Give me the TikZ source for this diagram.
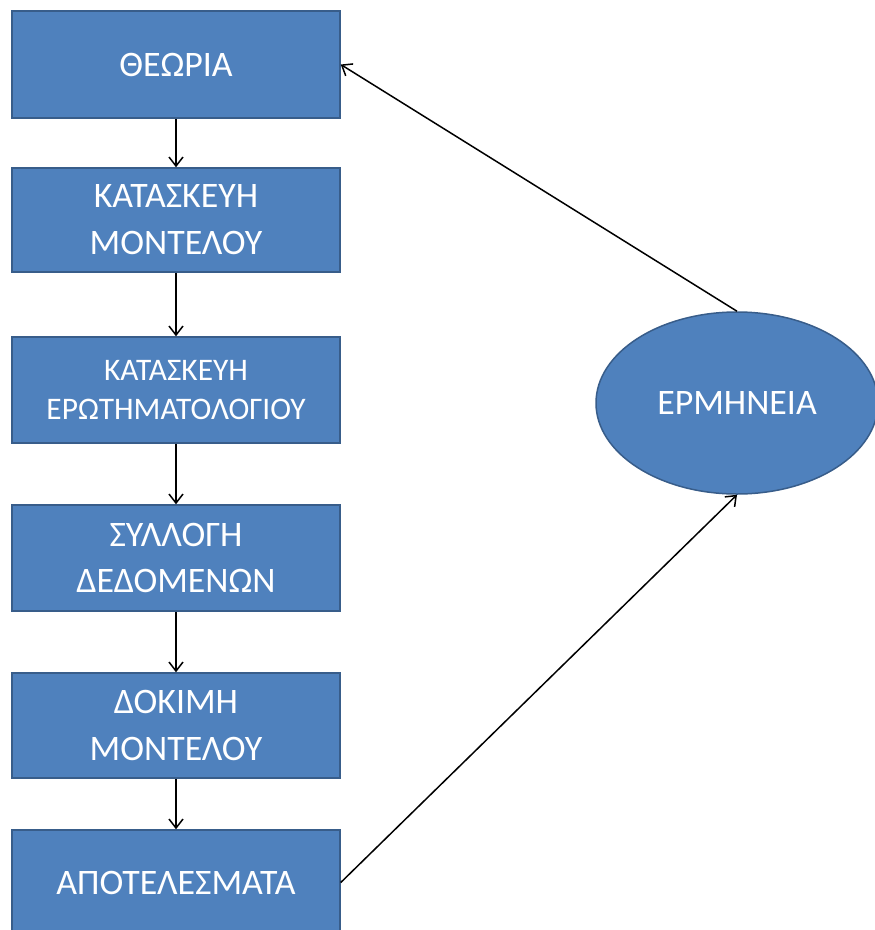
\documentclass[tikz,border=0pt]{standalone}
\usepackage{fontspec}
\setmainfont{Carlito}
\usetikzlibrary{shapes.geometric,arrows.meta}
\definecolor{boxfill}{HTML}{4F81BD}
\definecolor{boxline}{HTML}{385D8A}
\tikzset{
  stepbox/.style={draw=boxline, line width=1.5bp, fill=boxfill, minimum width=328bp, inner sep=0pt, text=white, align=center, font=\fontsize{36}{47}\selectfont},
  smallbox/.style={stepbox, font=\fontsize{31.5}{39}\selectfont},
  conn/.style={line width=1.5bp, -{Straight Barb[length=9bp,width=14bp,line width=1.5bp]}}
}
\begin{document}
\begin{tikzpicture}[x=1bp,y=-1bp]
\useasboundingbox (0,0) rectangle (875,930);
\clip (0,0) rectangle (875,930);
\fill[white] (0,0) rectangle (875,930);
\node[stepbox, minimum height=107bp] (t1) at (176,64.5) {\raisebox{-2bp}{ΘΕΩΡΙΑ}};
\node[stepbox, minimum height=104bp] (t2) at (176,220) {ΚΑΤΑΣΚΕΥΗ\\ΜΟΝΤΕΛΟΥ};
\node[smallbox, minimum height=106bp] (t3) at (176,390) {ΚΑΤΑΣΚΕΥΗ\\ΕΡΩΤΗΜΑΤΟΛΟΓΙΟΥ};
\node[stepbox, minimum height=106bp] (t4) at (176,558) {ΣΥΛΛΟΓΗ\\ΔΕΔΟΜΕΝΩΝ};
\node[stepbox, minimum height=105bp] (t5) at (176,725.5) {ΔΟΚΙΜΗ\\ΜΟΝΤΕΛΟΥ};
\node[stepbox, minimum height=105bp] (t6) at (176,882.5) {ΑΠΟΤΕΛΕΣΜΑΤΑ};
\node[ellipse, draw=boxline, line width=1.5bp, fill=boxfill, minimum width=282bp, minimum height=182bp, inner sep=0pt, text=white, font=\fontsize{36}{40}\selectfont] (e) at (737,403) {\raisebox{-4bp}{ΕΡΜΗΝΕΙΑ}};
\draw[conn] (t1) -- (t2);
\draw[conn] (t2) -- (t3);
\draw[conn] (t3) -- (t4);
\draw[conn] (t4) -- (t5);
\draw[conn] (t5) -- (t6);
\draw[conn] (e.north) -- (t1.east);
\draw[conn] (t6.east) -- (e.south);
\end{tikzpicture}
\end{document}
